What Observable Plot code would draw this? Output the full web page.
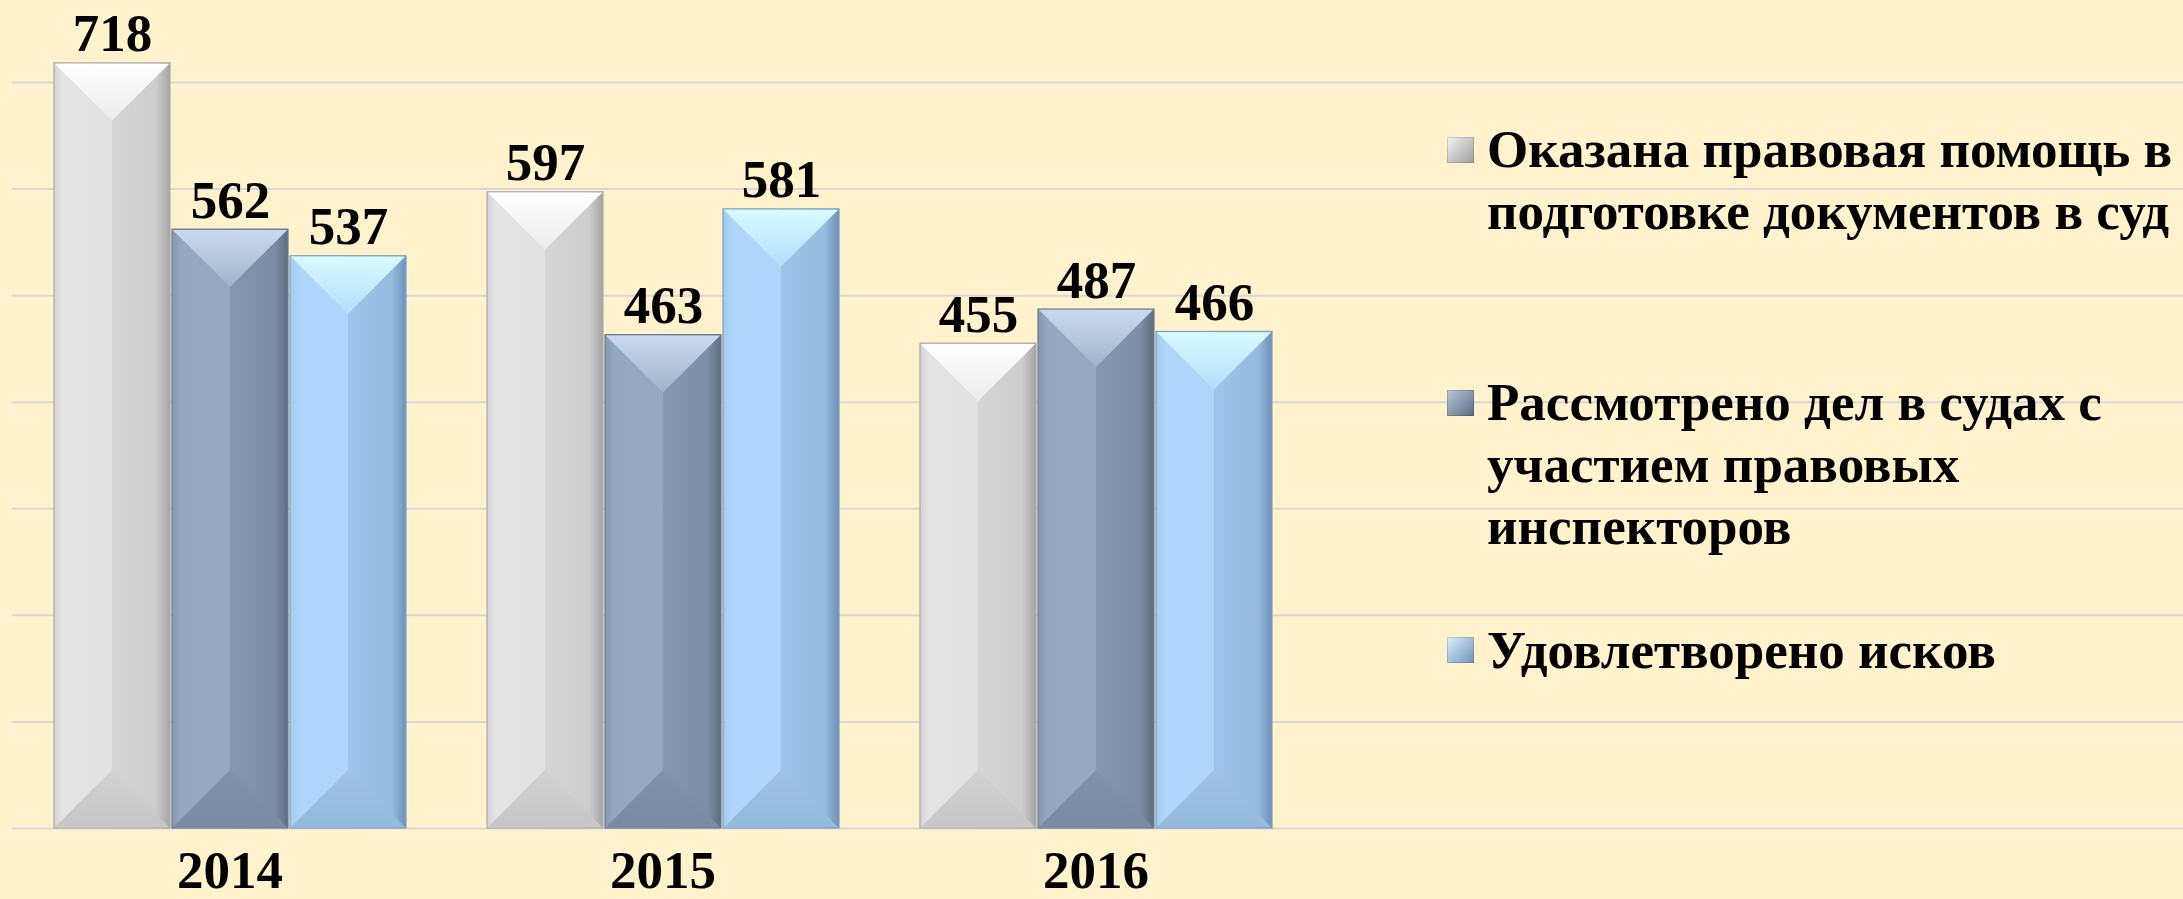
<!DOCTYPE html>
<html>
<head>
<meta charset="utf-8">
<script src="https://cdn.jsdelivr.net/npm/d3@7"></script>
<script src="https://cdn.jsdelivr.net/npm/@observablehq/plot@0.6"></script>
<style>
  html, body { margin: 0; padding: 0; background: #fff2cc; }
  #wrap { position: relative; width: 2183px; height: 899px; background: #fff2cc; overflow: hidden;
          font-family: "Liberation Serif", "Times New Roman", serif; }
  #grid, #chart { position: absolute; left: 0; top: 0; }
  .entry { position: absolute; left: 1447px; display: flex; align-items: flex-start; }
  .sw { width: 27px; height: 26px; margin-right: 13px; flex: none; box-shadow: inset 0 0 0 1px rgba(0,0,0,0.15); }
  .lt { font-size: 53px; font-weight: bold; line-height: 62px; white-space: nowrap; color: #000; }
</style>
</head>
<body>
<svg width="0" height="0" style="position:absolute">
  <defs>
    <linearGradient id="g0" x1="0" x2="1" y1="0" y2="0">
      <stop offset="0" stop-color="#d6d5d5"/>
      <stop offset="0.08" stop-color="#e5e4e4"/>
      <stop offset="0.5" stop-color="#e2e1e1"/>
      <stop offset="0.5" stop-color="#d6d5d5"/>
      <stop offset="0.88" stop-color="#cecdcd"/>
      <stop offset="1" stop-color="#a5a4a4"/>
    </linearGradient>
    <linearGradient id="g1" x1="0" x2="1" y1="0" y2="0">
      <stop offset="0" stop-color="#8297b2"/>
      <stop offset="0.08" stop-color="#93a7c0"/>
      <stop offset="0.5" stop-color="#95a9c2"/>
      <stop offset="0.5" stop-color="#8598b0"/>
      <stop offset="0.88" stop-color="#7c8ea6"/>
      <stop offset="1" stop-color="#5e6d81"/>
    </linearGradient>
    <linearGradient id="g2" x1="0" x2="1" y1="0" y2="0">
      <stop offset="0" stop-color="#a2c9f0"/>
      <stop offset="0.08" stop-color="#b0d5fa"/>
      <stop offset="0.5" stop-color="#b0d5fa"/>
      <stop offset="0.5" stop-color="#a1c5ea"/>
      <stop offset="0.88" stop-color="#96bbdf"/>
      <stop offset="1" stop-color="#6e92b8"/>
    </linearGradient>
    <linearGradient id="t0" x1="0" x2="0" y1="0" y2="1">
      <stop offset="0" stop-color="#ffffff"/>
      <stop offset="1" stop-color="#ecebec"/>
    </linearGradient>
    <linearGradient id="t1" x1="0" x2="0" y1="0" y2="1">
      <stop offset="0" stop-color="#c9daf0"/>
      <stop offset="1" stop-color="#a1b3ca"/>
    </linearGradient>
    <linearGradient id="t2" x1="0" x2="0" y1="0" y2="1">
      <stop offset="0" stop-color="#d8fbff"/>
      <stop offset="1" stop-color="#b3defb"/>
    </linearGradient>
    <linearGradient id="b0" x1="0" x2="0" y1="0" y2="1">
      <stop offset="0" stop-color="#d2d1d1"/>
      <stop offset="1" stop-color="#c8c7c7"/>
    </linearGradient>
    <linearGradient id="b1" x1="0" x2="0" y1="0" y2="1">
      <stop offset="0" stop-color="#8193ab"/>
      <stop offset="1" stop-color="#7a8ca3"/>
    </linearGradient>
    <linearGradient id="b2" x1="0" x2="0" y1="0" y2="1">
      <stop offset="0" stop-color="#9fc2e5"/>
      <stop offset="1" stop-color="#95b9dc"/>
    </linearGradient>
  </defs>
</svg>
<div id="wrap">
  <div id="grid"></div>
  <div id="chart"></div>
  <div class="entry" style="top:118px"><div class="sw" style="background:linear-gradient(135deg,#f6f6f6,#9c9c9c);margin-top:19px"></div><div class="lt">Оказана правовая помощь в<br>подготовке документов в суд</div></div>
  <div class="entry" style="top:371px"><div class="sw" style="background:linear-gradient(135deg,#b8c8dc,#5a6a80);margin-top:19px"></div><div class="lt">Рассмотрено дел в судах с<br>участием правовых<br>инспекторов</div></div>
  <div class="entry" style="top:619px"><div class="sw" style="background:linear-gradient(135deg,#dcf2ff,#6d93bb);margin-top:18px"></div><div class="lt">Удовлетворено исков</div></div>
</div>
<script>
const years = ["2014", "2015", "2016"];
const seriesNames = [
  "Оказана правовая помощь в подготовке документов в суд",
  "Рассмотрено дел в судах с участием правовых инспекторов",
  "Удовлетворено исков"
];
const help = [718, 597, 455];
const cases = [562, 463, 487];
const satisfied = [537, 581, 466];
const gridTicks = [0, 100, 200, 300, 400, 500, 600, 700];
const fills = ["url(#g0)", "url(#g1)", "url(#g2)"];
const topFills = ["url(#t0)", "url(#t1)", "url(#t2)"];
const botFills = ["url(#b0)", "url(#b1)", "url(#b2)"];
const strokes = ["#a9a8a8", "#6a7a90", "#7c9fc4"];

const seriesValues = [help, cases, satisfied];
const data = [];
years.forEach((yr, i) => {
  seriesNames.forEach((s, j) => {
    data.push({year: yr, series: s, value: seriesValues[j][i], k: j});
  });
});

const common = {
  width: 2183,
  height: 899,
  marginLeft: 12,
  marginRight: 0,
  marginTop: 0,
  marginBottom: 71,
  style: {background: "transparent", fontFamily: "'Liberation Serif', 'Times New Roman', serif", color: "#000"},
  y: {domain: [0, 777], axis: null}
};

const grid = Plot.plot({
  ...common,
  marks: [Plot.ruleY(gridTicks, {stroke: "#d8d7dc", strokeWidth: 2})]
});
document.getElementById("grid").appendChild(grid);

const NS = "http://www.w3.org/2000/svg";
function bevel(index, scales, values, dimensions, context, next) {
  const g = next(index, scales, values, dimensions, context);
  const rects = Array.from(g.querySelectorAll("rect"));
  rects.forEach((r, i) => {
    const k = data[index[i]].k;
    const x = +r.getAttribute("x"), y = +r.getAttribute("y");
    const w = +r.getAttribute("width"), h = +r.getAttribute("height");
    const d = Math.min(w / 2, h / 2);
    const e = 0.8;
    const top = document.createElementNS(NS, "polygon");
    top.setAttribute("points", `${x + e},${y + e} ${x + w - e},${y + e} ${x + w / 2},${y + d}`);
    top.setAttribute("fill", topFills[k]);
    g.appendChild(top);
    const bot = document.createElementNS(NS, "polygon");
    bot.setAttribute("points", `${x + e},${y + h - e} ${x + w - e},${y + h - e} ${x + w / 2},${y + h - d}`);
    bot.setAttribute("fill", botFills[k]);
    g.appendChild(bot);
  });
  return g;
}

const chart = Plot.plot({
  ...common,
  fx: {domain: years, range: [51, 1274], paddingInner: 0.18, paddingOuter: 0, axis: null},
  x: {domain: seriesNames, padding: 0, axis: null},
  marks: [
    Plot.barY(data, {
      fx: "year", x: "series", y: "value",
      fill: d => fills[d.k], stroke: d => strokes[d.k], strokeWidth: 1.2,
      insetLeft: 1, insetRight: 1,
      render: bevel
    }),
    Plot.text(data, {
      fx: "year", x: "series", y: "value", text: d => String(d.value),
      dy: -12, lineAnchor: "bottom", fontSize: 53, fontWeight: "bold", fill: "#000"
    }),
    Plot.axisFx({anchor: "bottom", tickSize: 0, tickPadding: 22, fontSize: 53, fontWeight: "bold", label: null, fill: "#000"})
  ]
});
document.getElementById("chart").appendChild(chart);
</script>
</body>
</html>
